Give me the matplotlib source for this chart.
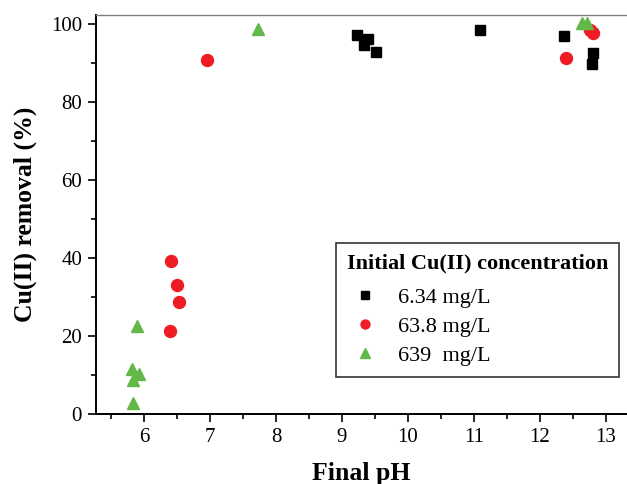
import matplotlib
matplotlib.use("Agg")
import matplotlib.pyplot as plt
from matplotlib.ticker import MultipleLocator

plt.rcParams["font.family"] = ["Liberation Serif", "DejaVu Serif"]

# data
ph_634 = [9.22, 9.40, 9.34, 9.52, 11.09, 12.37, 12.81, 12.79]
rm_634 = [97.3, 96.2, 94.6, 92.7, 98.4, 97.0, 92.5, 89.7]

ph_638 = [6.96, 6.41, 6.50, 6.53, 6.39, 12.39, 12.76, 12.81]
rm_638 = [90.8, 39.2, 33.2, 28.6, 21.3, 91.2, 98.5, 97.8]

ph_639 = [7.73, 12.63, 12.71, 5.89, 5.82, 5.93, 5.84, 5.84]
rm_639 = [98.7, 100.3, 100.3, 22.6, 11.5, 10.2, 8.6, 2.7]

labels = ["6.34 mg/L", "63.8 mg/L", "639  mg/L"]

fig = plt.figure(figsize=(6.27, 4.84), dpi=100)
ax = fig.add_axes([96/627, 70/484, 531/627, 399/484])

ax.plot(ph_634, rm_634, "s", color="black", ms=7.2, mec="black", label=labels[0], clip_on=False)
ax.plot(ph_638, rm_638, "o", color="#ee1c24", ms=8.6, mec="#ee1c24", label=labels[1], clip_on=False)
ax.plot(ph_639, rm_639, "^", color="#62b849", ms=9, mec="#62b849", label=labels[2], clip_on=False)

ax.set_xlim(5.273, 6 + (627-144)/66)
ax.set_ylim(0, 102.3)

ax.xaxis.set_major_locator(MultipleLocator(1))
ax.xaxis.set_minor_locator(MultipleLocator(0.5))
ax.yaxis.set_major_locator(MultipleLocator(20))
ax.yaxis.set_minor_locator(MultipleLocator(10))
ax.tick_params(which="major", direction="out", length=6, width=1.2, labelsize=15, pad=4)
ax.tick_params(which="minor", direction="out", length=3.5, width=1.2)
ax.tick_params(top=False, right=False, which="both")

for s in ["left", "bottom"]:
  ax.spines[s].set_linewidth(1.4)
  ax.spines[s].set_color("black")
ax.spines["top"].set_color("#808080")
ax.spines["top"].set_linewidth(1.0)
ax.spines["right"].set_visible(False)

ax.set_xlabel("Final pH", fontsize=18.5, fontweight="bold", labelpad=11)
ax.set_ylabel("Cu(II) removal (%)", fontsize=18.5, fontweight="bold", labelpad=10)

leg = ax.legend(title="Initial Cu(II) concentration", loc="upper left",
                bbox_to_anchor=((335.7-96)/531, (414-242.7)/399), borderaxespad=0,
                fontsize=16, title_fontproperties={"weight": "bold", "size": 16},
                fancybox=False, frameon=True, edgecolor="black",
                handletextpad=0.7, labelspacing=0.38, borderpad=0.5,
                markerscale=0.75, handlelength=1.6)
leg._legend_box.align = "left"
leg._legend_box.sep = 10
leg.get_frame().set_linewidth(1.2)

fig.savefig("out.png", dpi=100)
